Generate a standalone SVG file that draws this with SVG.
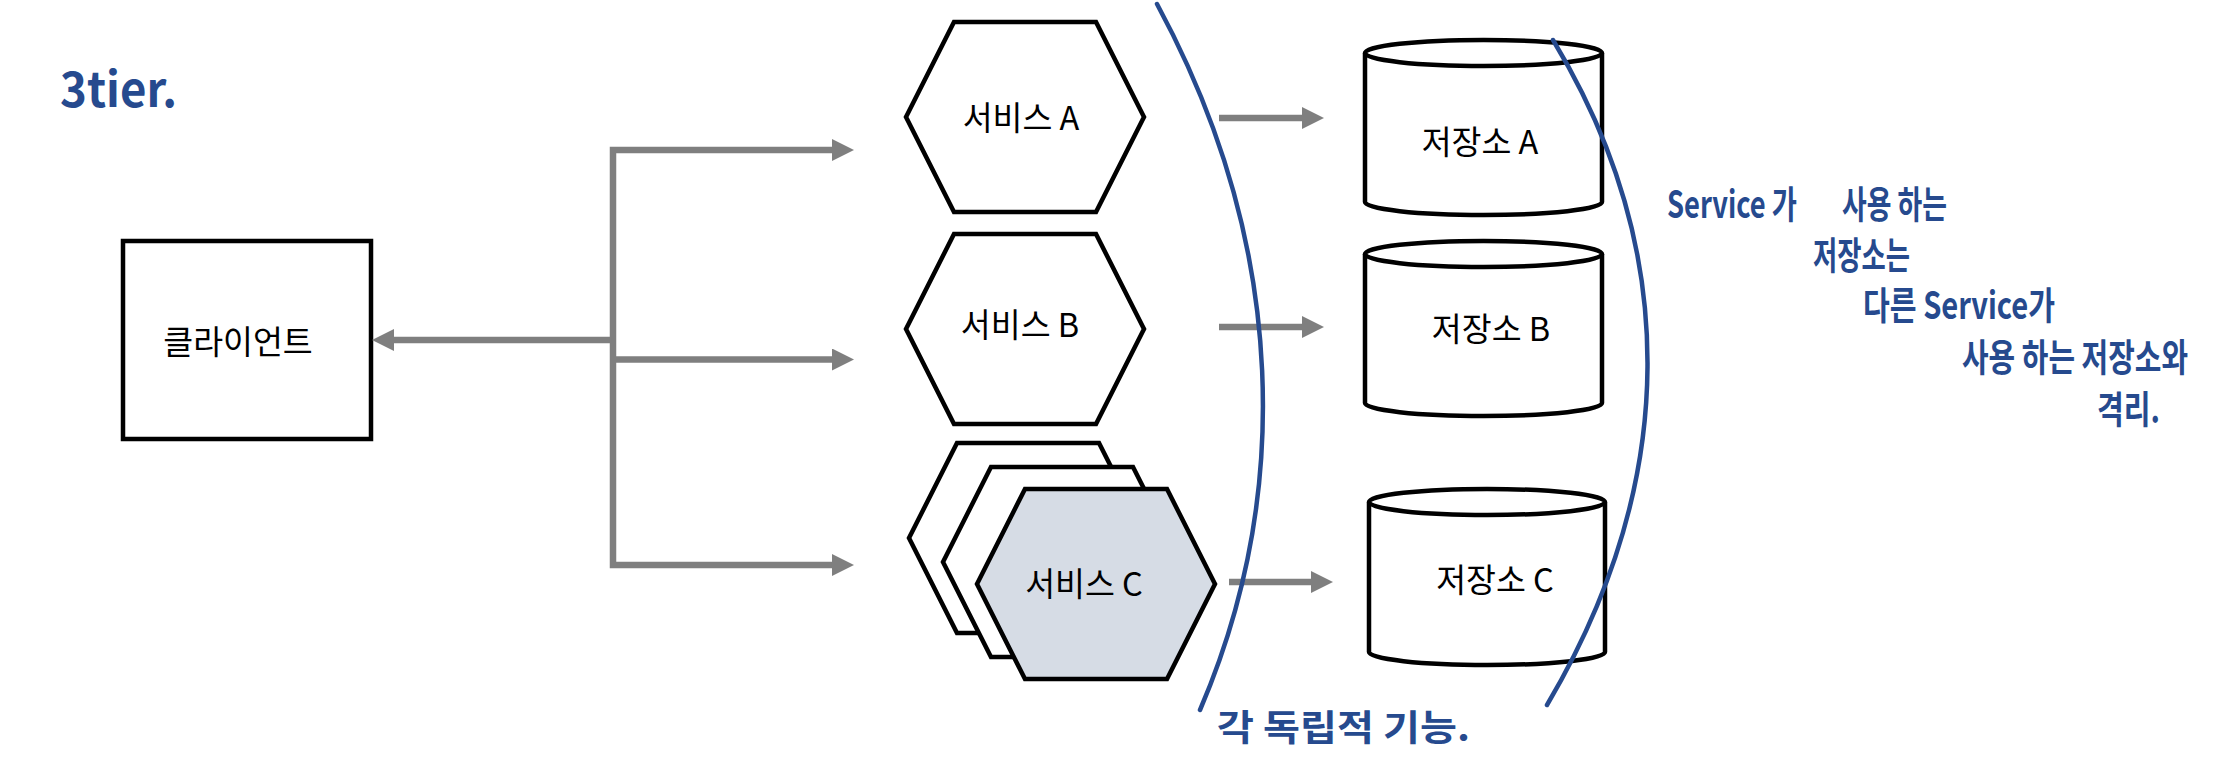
<svg xmlns="http://www.w3.org/2000/svg" width="2240" height="766" viewBox="0 0 2240 766">
<style>
  .shape { fill: #ffffff; stroke: #000000; stroke-width: 4.5; stroke-linejoin: miter; }
  .shape-c { fill: #D6DCE5; stroke: #000000; stroke-width: 4.5; }
  .label { font-family: "Noto Sans CJK KR", "Noto Sans", sans-serif; font-size: 32.5px; fill: #000000; text-anchor: middle; }
  .conn { fill: none; stroke: #7F7F7F; stroke-width: 6.5; stroke-linejoin: miter; }
  .pen { fill: none; stroke: #264A8E; stroke-width: 4.5; stroke-linecap: round; }
  .hand { font-family: "Noto Sans CJK KR", "Noto Sans", sans-serif; font-weight: 700; fill: #264A8E; }
</style>
<defs>
  <marker id="arrow" viewBox="0 0 22 22" refX="1" refY="11" markerWidth="22" markerHeight="22" markerUnits="userSpaceOnUse" orient="auto-start-reverse">
    <path d="M0,0 L22,11 L0,22 Z" fill="#7F7F7F"/>
  </marker>
</defs>
<rect width="2240" height="766" fill="#ffffff"/>

<g id="client">
  <rect class="shape" x="123" y="241" width="248" height="198"/>
  <text class="label" x="238" y="354">클라이언트</text>
</g>

<g id="service-a">
  <polygon class="shape" points="906,117 954,22 1096,22 1144,117 1096,212 954,212"/>
  <text class="label" x="1021" y="130">서비스 A</text>
</g>

<g id="service-b">
  <polygon class="shape" points="906,329 954,234 1096,234 1144,329 1096,424 954,424"/>
  <text class="label" x="1020" y="337">서비스 B</text>
</g>

<g id="service-c">
  <polygon class="shape" points="909,538 957,443 1099,443 1147,538 1099,633 957,633"/>
  <polygon class="shape" points="943,562 991,467 1133,467 1181,562 1133,657 991,657"/>
  <polygon class="shape-c" points="977,584 1025,489 1167,489 1215,584 1167,679 1025,679"/>
  <text class="label" x="1084" y="596">서비스 C</text>
</g>

<g id="storage-a">
  <path class="shape" d="M1365,53 V202 A118.5,13 0 0 0 1602,202 V53"/>
  <ellipse class="shape" cx="1483.5" cy="53" rx="118.5" ry="13"/>
  <text class="label" x="1480" y="154">저장소 A</text>
</g>

<g id="storage-b">
  <path class="shape" d="M1365,254 V403 A118.5,13 0 0 0 1602,403 V254"/>
  <ellipse class="shape" cx="1483.5" cy="254" rx="118.5" ry="13"/>
  <text class="label" x="1491" y="341">저장소 B</text>
</g>

<g id="storage-c">
  <path class="shape" d="M1369,502 V652 A118,13 0 0 0 1605,652 V502"/>
  <ellipse class="shape" cx="1487" cy="502" rx="118" ry="13"/>
  <text class="label" x="1495" y="592">저장소 C</text>
</g>

<g id="connectors">
  <path class="conn" d="M833,565 H613 V150 H833" marker-start="url(#arrow)" marker-end="url(#arrow)"/>
  <path class="conn" d="M613,359.5 H833" marker-end="url(#arrow)"/>
  <path class="conn" d="M613,340 H393" marker-end="url(#arrow)"/>
  <path class="conn" d="M1219,118 H1303" marker-end="url(#arrow)"/>
  <path class="conn" d="M1219,327 H1303" marker-end="url(#arrow)"/>
  <path class="conn" d="M1229,582 H1312" marker-end="url(#arrow)"/>
</g>

<g id="annotations">
  <path class="pen" d="M1157,4 C1290,250 1290,500 1200,710"/>
  <path class="pen" d="M1553,40 C1680,250 1680,480 1547,705"/>
  <text class="hand" x="60" y="107" font-size="48" textLength="117" lengthAdjust="spacingAndGlyphs">3tier.</text>
  <text class="hand" x="1667" y="218" font-size="38" textLength="130" lengthAdjust="spacingAndGlyphs">Service 가</text>
  <text class="hand" x="1842" y="218" font-size="38" textLength="105" lengthAdjust="spacingAndGlyphs">사용 하는</text>
  <text class="hand" x="1813" y="269" font-size="38" textLength="97" lengthAdjust="spacingAndGlyphs">저장소는</text>
  <text class="hand" x="1863" y="319" font-size="38" textLength="192" lengthAdjust="spacingAndGlyphs">다른 Service가</text>
  <text class="hand" x="1962" y="371" font-size="38" textLength="226" lengthAdjust="spacingAndGlyphs">사용 하는 저장소와</text>
  <text class="hand" x="2097" y="423" font-size="38" textLength="63" lengthAdjust="spacingAndGlyphs">격리.</text>
  <text class="hand" x="1217" y="741" font-size="36" textLength="253" lengthAdjust="spacingAndGlyphs">각 독립적 기능.</text>
</g>
</svg>
